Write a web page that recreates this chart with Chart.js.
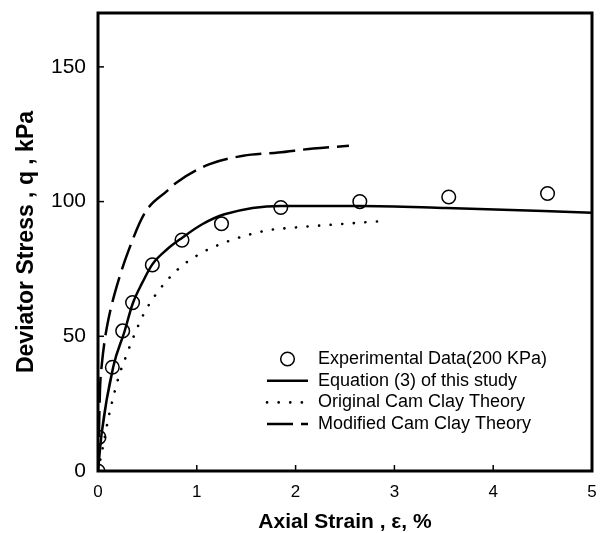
<!DOCTYPE html>
<html>
<head>
<meta charset="utf-8">
<script src="https://cdn.jsdelivr.net/npm/chart.js@4.4.1/dist/chart.umd.min.js"></script>
<style>
  html, body { margin: 0; padding: 0; background: #fff; }
  #wrap { width: 608px; height: 533px; }
</style>
</head>
<body>
<div id="wrap"><canvas id="grafik" width="608" height="533"></canvas></div>
<script>
// experimental points (200 kPa)
const expStrain = [0, 0.01, 0.145, 0.25, 0.35, 0.55, 0.85, 1.25, 1.85, 2.65, 3.55, 4.55];
const expStress = [0, 12.5, 38.5, 52, 62.5, 76.5, 85.7, 91.8, 97.8, 100, 101.7, 103];

// Equation (3) of this study
const eqStrain = [0, 0.037, 0.155, 0.266, 0.35, 0.45, 0.55, 0.7, 0.853, 1.05, 1.28, 1.85, 2.65, 3.53, 5];
const eqStress = [0, 14, 38.8, 51.5, 62, 70, 76.7, 82.3, 86.6, 91.5, 95.3, 98.4, 98.4, 97.6, 95.9];

// Original Cam Clay
const occStrain = [0, 0.05, 0.105, 0.155, 0.213, 0.29, 0.375, 0.476, 0.617, 0.813, 1.04, 1.275, 1.505, 1.73, 1.97, 2.4, 2.89];
const occStress = [0, 9, 19.6, 27.4, 35.4, 43.2, 51.2, 59.2, 67.1, 75, 80.8, 84.7, 87.5, 89.4, 90.3, 91.5, 92.8];

// Modified Cam Clay
const mccStrain = [0, 0.01, 0.02, 0.04, 0.064, 0.105, 0.19, 0.307, 0.476, 0.7, 0.8, 1.13, 1.47, 1.825, 2.18, 2.54];
const mccStress = [0, 15, 30, 40, 47.5, 56.2, 68.6, 81.6, 95.9, 104, 107.2, 113.9, 117, 118.2, 119.7, 120.7];

const xTicks = [0, 1, 2, 3, 4, 5];
const yTicks = [0, 50, 100, 150];

const labels = [
  'Experimental Data(200 KPa)',
  'Equation (3) of this study',
  'Original Cam Clay Theory',
  'Modified Cam Clay Theory'
];

const FONT = '"Liberation Sans", Arial, Helvetica, sans-serif';

function toXY(xs, ys) {
  return xs.map((x, i) => ({ x: x, y: ys[i] }));
}

// frame, inner ticks and legend box
const bingkai = {
  id: 'bingkai',
  afterDraw(chart) {
    const ctx = chart.ctx;
    const a = chart.chartArea;
    const sx = chart.scales.x, sy = chart.scales.y;
    ctx.save();
    ctx.strokeStyle = '#000';
    ctx.lineWidth = 1.5;
    xTicks.slice(1, -1).forEach(v => {
      const px = sx.getPixelForValue(v);
      ctx.beginPath(); ctx.moveTo(px, a.bottom); ctx.lineTo(px, a.bottom - 6); ctx.stroke();
    });
    yTicks.slice(1).forEach(v => {
      const py = sy.getPixelForValue(v);
      ctx.beginPath(); ctx.moveTo(a.left, py); ctx.lineTo(a.left + 6, py); ctx.stroke();
    });
    ctx.lineWidth = 3;
    ctx.strokeRect(a.left, a.top, a.right - a.left, a.bottom - a.top);

    // legend
    const x0 = a.right - 325, x1 = a.right - 284, tx = a.right - 274;
    let y = a.bottom - 112;
    ctx.font = '18px ' + FONT;
    ctx.fillStyle = '#000';
    ctx.textBaseline = 'middle';
    chart.data.datasets.forEach((ds, i) => {
      ctx.save();
      if (i === 0) {
        ctx.lineWidth = ds.borderWidth;
        ctx.beginPath(); ctx.arc((x0 + x1) / 2, y, ds.pointRadius, 0, Math.PI * 2); ctx.stroke();
      } else {
        ctx.lineWidth = ds.borderWidth;
        ctx.lineCap = ds.borderCapStyle || 'butt';
        ctx.setLineDash(ds.borderDash || []);
        ctx.beginPath(); ctx.moveTo(x0, y); ctx.lineTo(x1, y); ctx.stroke();
      }
      ctx.restore();
      ctx.fillText(ds.label, tx, y);
      y += 21.7;
    });
    ctx.restore();
  }
};

const data = {
  datasets: [
    {
      label: labels[0],
      data: toXY(expStrain, expStress),
      showLine: false,
      pointStyle: 'circle',
      pointRadius: 6.8,
      borderWidth: 1.5,
      borderColor: '#000',
      backgroundColor: 'rgba(0,0,0,0)',
      order: 0
    },
    {
      label: labels[1],
      data: toXY(eqStrain, eqStress),
      showLine: true,
      pointRadius: 0,
      borderWidth: 2.5,
      borderColor: '#000',
      cubicInterpolationMode: 'monotone',
      order: 1
    },
    {
      label: labels[2],
      data: toXY(occStrain, occStress),
      showLine: true,
      pointRadius: 0,
      borderWidth: 2.6,
      borderColor: '#000',
      borderDash: [0.1, 11.5],
      borderCapStyle: 'round',
      cubicInterpolationMode: 'monotone',
      order: 2
    },
    {
      label: labels[3],
      data: toXY(mccStrain, mccStress),
      showLine: true,
      pointRadius: 0,
      borderWidth: 2.5,
      borderColor: '#000',
      borderDash: [26, 8],
      cubicInterpolationMode: 'monotone',
      order: 3
    }
  ]
};

const config = {
  type: 'scatter',
  data: data,
  options: {
    responsive: false,
    animation: false,
    layout: {
      padding: { left: 0, right: 16, top: 13, bottom: 0 }
    },
    scales: {
      x: {
        type: 'linear',
        min: 0,
        max: 5,
        afterFit(scale) {
          scale.height = 62;
          scale.paddingLeft = 0;
          scale.paddingRight = 0;
        },
        afterBuildTicks(scale) { scale.ticks = xTicks.map(v => ({ value: v })); },
        grid: { display: false, drawTicks: false },
        border: { display: false },
        ticks: {
          padding: 11,
          color: '#000',
          font: { family: FONT, size: 17 }
        },
        title: {
          display: true,
          text: 'Axial Strain , \u03b5, %',
          color: '#000',
          padding: { top: 4, bottom: 0 },
          font: { family: FONT, size: 21, weight: 'bold', lineHeight: 1.0 }
        }
      },
      y: {
        type: 'linear',
        min: 0,
        max: 170,
        afterFit(scale) {
          scale.width = 98;
          scale.paddingTop = 0;
          scale.paddingBottom = 0;
        },
        afterBuildTicks(scale) { scale.ticks = yTicks.map(v => ({ value: v })); },
        grid: { display: false, drawTicks: false },
        border: { display: false },
        ticks: {
          padding: 12,
          color: '#000',
          font: { family: FONT, size: 21 }
        },
        title: {
          display: true,
          text: 'Deviator Stress , q , kPa',
          color: '#000',
          padding: { top: 13, bottom: 0 },
          font: { family: FONT, size: 23, weight: 'bold' }
        }
      }
    },
    plugins: {
      legend: { display: false },
      tooltip: { enabled: false }
    }
  },
  plugins: [bingkai]
};

const myChart = new Chart(
  document.getElementById('grafik'),
  config
);
</script>
</body>
</html>
